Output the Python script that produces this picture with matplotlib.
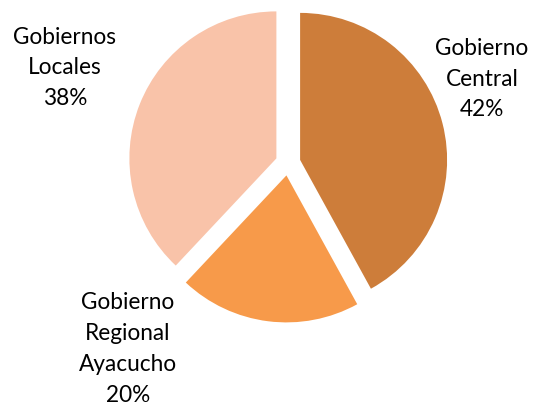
import matplotlib
matplotlib.use("Agg")
import matplotlib.pyplot as plt

categories = ["Gobierno\nCentral", "Gobierno\nRegional\nAyacucho", "Gobiernos\nLocales"]
values = [42, 20, 38]
colors = ["#CD7D3A", "#F79A4A", "#F9C3A9"]

W, H = 537, 403
R = 147.0
cx, cy = 288, 163  # pixel centre (from top)

fig = plt.figure(figsize=(W / 100, H / 100), dpi=100)
ax = fig.add_axes([0, 0, 1, 1])
ax.pie(values, colors=colors, startangle=90, counterclock=False,
       explode=[0.085] * 3, radius=1.0, center=(0, 0),
       wedgeprops=dict(linewidth=0))
x0 = cx / R
y0 = (H - cy) / R
ax.set_xlim(-x0, W / R - x0)
ax.set_ylim(-y0, H / R - y0)
ax.set_aspect("equal")
ax.axis("off")

label_pos = [(482, 79), (128, 349), (65, 68)]  # pixels from top-left
for cat, val, (px, py) in zip(categories, values, label_pos):
    fig.text(px / W, 1 - py / H, f"{cat}\n{val}%", ha="center", va="center",
             fontsize=16.3, family=["Lato", "DejaVu Sans"], linespacing=1.58,
             color="#000000")

fig.savefig("out.png", dpi=100)
